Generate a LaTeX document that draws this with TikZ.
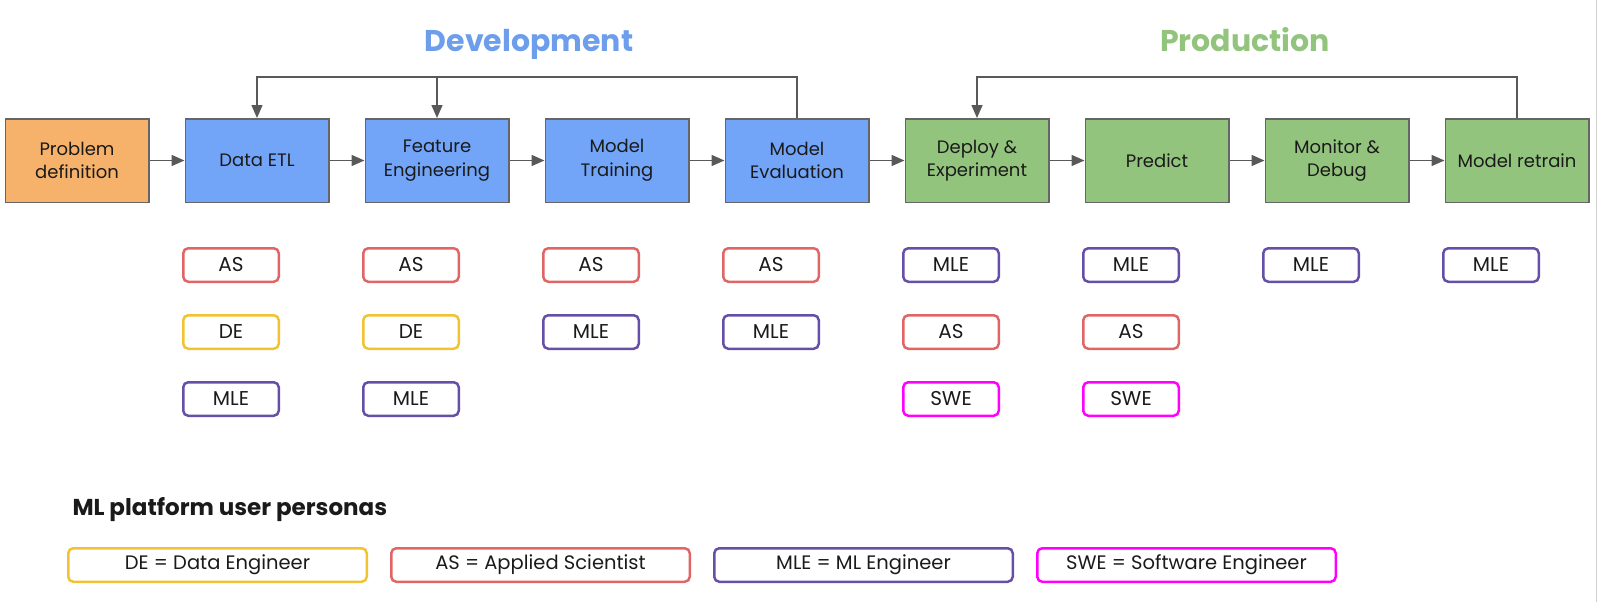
\documentclass[tikz,border=0pt]{standalone}
\usepackage{fontspec}
\setmainfont{Poppins}
\usetikzlibrary{arrows.meta,positioning}
\definecolor{ink}{HTML}{1A1A1A}
\definecolor{rule}{HTML}{595959}
\definecolor{edge}{HTML}{666666}
\definecolor{probfill}{HTML}{F6B26B}
\definecolor{devfill}{HTML}{72A4F8}
\definecolor{prodfill}{HTML}{93C47D}
\definecolor{devblue}{HTML}{6D9EEB}
\definecolor{prodgreen}{HTML}{93C47D}
\definecolor{asred}{HTML}{E06666}
\definecolor{deyellow}{HTML}{F1C232}
\definecolor{mlepurple}{HTML}{674EA7}
\definecolor{swepink}{HTML}{FF00FF}
\tikzset{
  every picture/.style={text=ink},
  stage/.style={draw=edge, line width=1.5pt, minimum width=143.5pt, minimum height=83.5pt, inner sep=0pt, align=center, font=\fontsize{18}{23.5}\selectfont},
  chip/.style={draw=#1, line width=2.5pt, rounded corners=5pt, minimum width=95.5pt, minimum height=33.5pt, inner sep=0pt, font=\fontsize{20}{24}\selectfont},
  key/.style={chip=#1, minimum width=298.5pt, font=\fontsize{19.5}{24}\selectfont},
  phase/.style={font=\bfseries\fontsize{30}{36}\selectfont},
  flow/.style={-{Triangle[length=13pt,width=11pt]}, draw=rule, line width=1.5pt},
}
\begin{document}
\begin{tikzpicture}[x=1pt, y=-1pt]
\useasboundingbox (0,0) rectangle (1600,602);
\draw[black!18, line width=1pt] (1596,0) -- (1596,602);
% phase titles
\node[phase, text=devblue, anchor=base] (devtitle) at (529,52) {Development};
\node[phase, text=prodgreen, anchor=base] (prodtitle) at (1245,52) {Production};
% pipeline
\node[stage, fill=probfill] (prob) at (77,160.5) {Problem\\definition};
\node[stage, fill=devfill, right=35pt of prob] (etl) {Data ETL};
\node[stage, fill=devfill, right=35pt of etl] (feat) {Feature\\Engineering};
\node[stage, fill=devfill, right=35pt of feat] (train) {Model\\Training};
\node[stage, fill=devfill, right=35pt of train] (eval) {Model\\Evaluation};
\node[stage, fill=prodfill, right=35pt of eval] (deploy) {Deploy \&\\Experiment};
\node[stage, fill=prodfill, right=35pt of deploy] (predict) {Predict};
\node[stage, fill=prodfill, right=35pt of predict] (monitor) {Monitor \&\\Debug};
\node[stage, fill=prodfill, right=35pt of monitor] (retrain) {Model retrain};
\draw[flow] (prob) -- (etl);
\draw[flow] (etl) -- (feat);
\draw[flow] (feat) -- (train);
\draw[flow] (train) -- (eval);
\draw[flow] (eval) -- (deploy);
\draw[flow] (deploy) -- (predict);
\draw[flow] (predict) -- (monitor);
\draw[flow] (monitor) -- (retrain);
% loops back
\coordinate (loop) at (0,77);
\draw[flow] (eval.north) -- (eval.north |- loop) -- (etl.north |- loop) -- (etl.north);
\draw[flow] (feat.north |- loop) -- (feat.north);
\draw[flow] (retrain.north) -- (retrain.north |- loop) -- (deploy.north |- loop) -- (deploy.north);
% personas per stage
\node[chip=asred, below=44pt of etl.south, xshift=-26pt] (etl1) {AS};
\node[chip=deyellow, below=31pt of etl1] (etl2) {DE};
\node[chip=mlepurple, below=31pt of etl2] (etl3) {MLE};
\node[chip=asred, below=44pt of feat.south, xshift=-26pt] (feat1) {AS};
\node[chip=deyellow, below=31pt of feat1] (feat2) {DE};
\node[chip=mlepurple, below=31pt of feat2] (feat3) {MLE};
\node[chip=asred, below=44pt of train.south, xshift=-26pt] (train1) {AS};
\node[chip=mlepurple, below=31pt of train1] (train2) {MLE};
\node[chip=asred, below=44pt of eval.south, xshift=-26pt] (eval1) {AS};
\node[chip=mlepurple, below=31pt of eval1] (eval2) {MLE};
\node[chip=mlepurple, below=44pt of deploy.south, xshift=-26pt] (deploy1) {MLE};
\node[chip=asred, below=31pt of deploy1] (deploy2) {AS};
\node[chip=swepink, below=31pt of deploy2] (deploy3) {SWE};
\node[chip=mlepurple, below=44pt of predict.south, xshift=-26pt] (predict1) {MLE};
\node[chip=asred, below=31pt of predict1] (predict2) {AS};
\node[chip=swepink, below=31pt of predict2] (predict3) {SWE};
\node[chip=mlepurple, below=44pt of monitor.south, xshift=-26pt] (monitor1) {MLE};
\node[chip=mlepurple, below=44pt of retrain.south, xshift=-26pt] (retrain1) {MLE};
% legend
\node[anchor=base west, font=\bfseries\fontsize{23}{28}\selectfont] (legend) at (69,515) {ML platform user personas};
\node[key=deyellow, anchor=west] (keyde) at (67,565) {DE = Data Engineer};
\node[key=asred, right=22pt of keyde] (keyas) {AS = Applied Scientist};
\node[key=mlepurple, right=22pt of keyas] (keymle) {MLE = ML Engineer};
\node[key=swepink, right=22pt of keymle] (keyswe) {SWE = Software Engineer};
\end{tikzpicture}
\end{document}
